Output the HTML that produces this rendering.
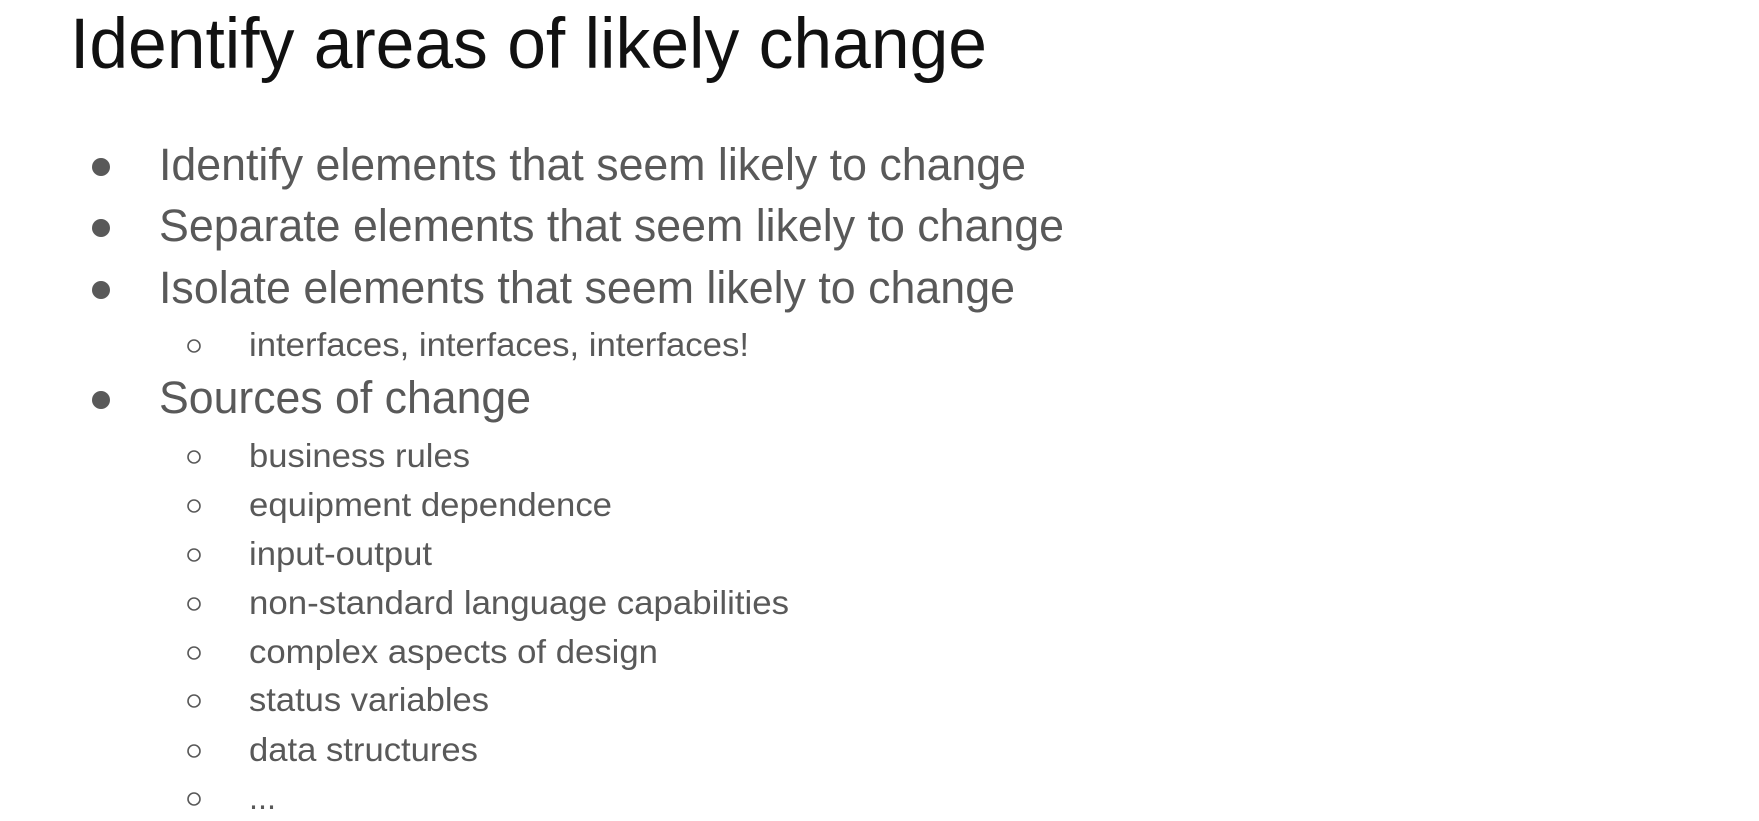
<!DOCTYPE html>
<html><head><meta charset="utf-8"><style>
html,body{margin:0;padding:0;background:#fff;width:1759px;height:821px;overflow:hidden}
svg{display:block}
text{font-family:"Liberation Sans",Arial,sans-serif}
</style></head><body>
<svg width="1759" height="821" viewBox="0 0 1759 821">
<text x="70" y="68" font-size="71" fill="#111" textLength="917" lengthAdjust="spacingAndGlyphs">Identify areas of likely change</text>
<g fill="#595959">
<circle cx="101" cy="167" r="9"/>
<text x="159" y="180" font-size="45" textLength="867" lengthAdjust="spacingAndGlyphs">Identify elements that seem likely to change</text>
<circle cx="101" cy="228" r="9"/>
<text x="159" y="241" font-size="45" textLength="905" lengthAdjust="spacingAndGlyphs">Separate elements that seem likely to change</text>
<circle cx="101" cy="290" r="9"/>
<text x="159" y="303" font-size="45" textLength="856" lengthAdjust="spacingAndGlyphs">Isolate elements that seem likely to change</text>
<circle cx="101" cy="400" r="9"/>
<text x="159" y="413" font-size="45" textLength="372" lengthAdjust="spacingAndGlyphs">Sources of change</text>
</g>
<g fill="#595959" font-size="33">
<text x="249" y="356" textLength="500" lengthAdjust="spacingAndGlyphs">interfaces, interfaces, interfaces!</text>
<text x="249" y="467" textLength="221" lengthAdjust="spacingAndGlyphs">business rules</text>
<text x="249" y="516" textLength="363" lengthAdjust="spacingAndGlyphs">equipment dependence</text>
<text x="249" y="565" textLength="183" lengthAdjust="spacingAndGlyphs">input-output</text>
<text x="249" y="614" textLength="540" lengthAdjust="spacingAndGlyphs">non-standard language capabilities</text>
<text x="249" y="663" textLength="409" lengthAdjust="spacingAndGlyphs">complex aspects of design</text>
<text x="249" y="711" textLength="240" lengthAdjust="spacingAndGlyphs">status variables</text>
<text x="249" y="761" textLength="229" lengthAdjust="spacingAndGlyphs">data structures</text>
<text x="249" y="809" textLength="27" lengthAdjust="spacingAndGlyphs">...</text>
</g>
<g fill="none" stroke="#595959" stroke-width="1.6">
<circle cx="194" cy="346" r="6"/>
<circle cx="194" cy="457" r="6"/>
<circle cx="194" cy="506" r="6"/>
<circle cx="194" cy="555" r="6"/>
<circle cx="194" cy="604" r="6"/>
<circle cx="194" cy="653" r="6"/>
<circle cx="194" cy="701" r="6"/>
<circle cx="194" cy="751" r="6"/>
<circle cx="194" cy="799" r="6"/>
</g>
</svg>
</body></html>
